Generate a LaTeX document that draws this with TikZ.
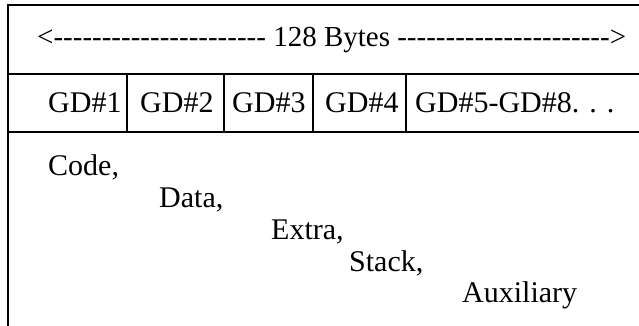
\documentclass[tikz,border=0pt]{standalone}
\usepackage{fontspec}
\setmainfont{Liberation Serif}
\usetikzlibrary{positioning}
\tikzset{
  rule/.style={line width=1.5pt, black},
  cellrule/.style={line width=1.2pt, black},
  lbl/.style={anchor=base west, inner sep=0pt, font=\fontsize{30}{32}\selectfont},
}
\newcommand\dashrun[1]{\foreach \k in {1,...,#1}{-}}

\begin{document}
\begin{tikzpicture}[x=1pt,y=-1pt]
  \useasboundingbox (0,0) rectangle (639,326);
  % frame, open on the right and at the bottom
  \draw[rule] (639,5) -- (8,5) -- (8,326);
  \draw[rule] (8,74) -- (639,74);
  \draw[rule] (8,132) -- (639,132);
  \foreach \x in {127,224,313,406} { \draw[cellrule] (\x,74) -- (\x,132); }
  % row widths
  \node[lbl, font=\fontsize{29}{31}\selectfont] (width) at (37,47) {<\dashrun{22} 128 Bytes \dashrun{22}>};
  \foreach \x/\txt [count=\i] in {48/GD\#1, 140/GD\#2, 232/GD\#3, 325/GD\#4, 415/GD\#5-GD\#8. . .} {
    \node[lbl] (gd\i) at (\x,113) {\txt};
  }
  % segments
  \foreach \x/\y/\name/\txt in {48/175/code/{Code,}, 159/207/data/{Data,}, 271/239/extra/{Extra,}, 349/271/stack/{Stack,}, 462/302/aux/Auxiliary} {
    \node[lbl] (\name) at (\x,\y) {\txt};
  }
\end{tikzpicture}
\end{document}
